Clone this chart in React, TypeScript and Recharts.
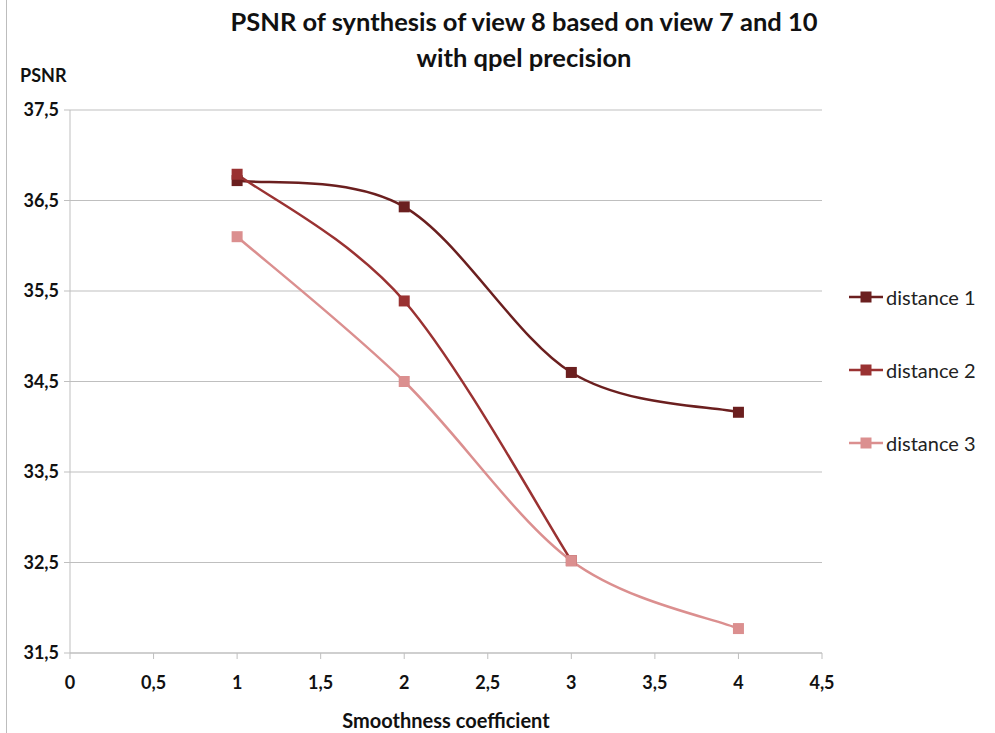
import { LineChart, Line, XAxis, YAxis, CartesianGrid, Legend } from "recharts";

const smoothness = [1, 2, 3, 4];
const distance1 = [36.72, 36.43, 34.6, 34.16];
const distance2: (number | null)[] = [36.79, 35.39, 32.52, null];
const distance3 = [36.1, 34.5, 32.52, 31.77];

const seriesNames = ["distance 1", "distance 2", "distance 3"];
const seriesColors = ["#6B1F1F", "#9A3232", "#DB8F8F"];

const xTicks = [0, 0.5, 1, 1.5, 2, 2.5, 3, 3.5, 4, 4.5];
const yTicks = [31.5, 32.5, 33.5, 34.5, 35.5, 36.5, 37.5];

const data = smoothness.map((x, i) => ({
  x,
  d1: distance1[i],
  d2: distance2[i],
  d3: distance3[i],
}));

const FONT = "Lato, 'Open Sans', sans-serif";
const comma = (v: number) => String(v).replace(".", ",");

// Catmull-Rom style smoothing, close to what spreadsheet "smoothed line" does
function smoothCurve(context: any) {
  let pts: [number, number][] = [];
  return {
    areaStart() {},
    areaEnd() {},
    lineStart() {
      pts = [];
    },
    point(x: number, y: number) {
      pts.push([+x, +y]);
    },
    lineEnd() {
      if (!pts.length) return;
      context.moveTo(pts[0][0], pts[0][1]);
      for (let i = 0; i < pts.length - 1; i++) {
        const p0 = pts[i - 1] || pts[i];
        const p1 = pts[i];
        const p2 = pts[i + 1];
        const p3 = pts[i + 2] || pts[i + 1];
        context.bezierCurveTo(
          p1[0] + (p2[0] - p0[0]) / 6,
          p1[1] + (p2[1] - p0[1]) / 6,
          p2[0] - (p3[0] - p1[0]) / 6,
          p2[1] - (p3[1] - p1[1]) / 6,
          p2[0],
          p2[1]
        );
      }
    },
  };
}

const squareDot = (color: string) => (props: any) => {
  const { cx, cy, index } = props;
  if (cy == null || isNaN(cy)) return <g key={`e-${index}`} />;
  return <rect key={`s-${index}`} x={cx - 5.5} y={cy - 5.5} width={11} height={11} fill={color} />;
};

function LegendBox() {
  return (
    <div style={{ display: "flex", flexDirection: "column", gap: 47, fontFamily: FONT }}>
      {seriesNames.map((name, i) => (
        <div key={name} style={{ display: "flex", alignItems: "center", height: 26, whiteSpace: "nowrap" }}>
          <svg width={36} height={14} style={{ marginLeft: 27, flexShrink: 0 }}>
            <line x1={0} y1={7} x2={34} y2={7} stroke={seriesColors[i]} strokeWidth={2.5} />
            <rect x={11.5} y={1.5} width={11} height={11} fill={seriesColors[i]} />
          </svg>
          <span style={{ fontSize: 20, color: "#222", marginLeft: 1 }}>{name}</span>
        </div>
      ))}
    </div>
  );
}

export default function App() {
  return (
    <div style={{ position: "relative", width: 995, height: 733, background: "#fff", fontFamily: FONT }}>
      <style>{`body{margin:0}`}</style>
      <div style={{ position: "absolute", left: 6, top: 0, width: 1, height: 733, background: "#BDBDBD" }} />
      <div
        style={{
          position: "absolute",
          left: 204,
          width: 640,
          top: 3,
          textAlign: "center",
          fontSize: 25.5,
          fontWeight: 700,
          lineHeight: "36px",
          color: "#111",
        }}
      >
        PSNR of synthesis of view 8 based on view 7 and 10
        <br />
        with qpel precision
      </div>
      <div style={{ position: "absolute", left: 20, top: 64, fontSize: 18, fontWeight: 700, color: "#111" }}>
        PSNR
      </div>
      <LineChart width={995} height={733} data={data} margin={{ top: 110, right: 23, bottom: 0, left: 0 }}>
        <CartesianGrid horizontal vertical={false} stroke="#BFBFBF" />
        <XAxis
          dataKey="x"
          type="number"
          domain={[0, 4.5]}
          ticks={xTicks}
          tickFormatter={comma}
          height={80}
          tickSize={6}
          tickMargin={17}
          stroke="#BFBFBF"
          tick={{ fill: "#111", fontSize: 18, fontWeight: 700, fontFamily: FONT }}
          label={{
            value: "Smoothness coefficient",
            position: "insideBottom",
            offset: 5,
            fill: "#111",
            fontSize: 20,
            fontWeight: 700,
            fontFamily: FONT,
          }}
        />
        <YAxis
          type="number"
          domain={[31.5, 37.5]}
          ticks={yTicks}
          tickFormatter={comma}
          width={70}
          tickSize={6}
          tickMargin={5}
          stroke="#BFBFBF"
          tick={{ fill: "#111", fontSize: 18, fontWeight: 700, fontFamily: FONT }}
        />
        <Legend
          layout="vertical"
          align="right"
          verticalAlign="top"
          width={150}
          wrapperStyle={{ top: 284 }}
          content={() => <LegendBox />}
        />
        {["d1", "d2", "d3"].map((key, i) => (
          <Line
            key={key}
            dataKey={key}
            name={seriesNames[i]}
            type={smoothCurve as any}
            stroke={seriesColors[i]}
            strokeWidth={2.5}
            dot={squareDot(seriesColors[i])}
            activeDot={false}
            isAnimationActive={false}
          />
        ))}
      </LineChart>
    </div>
  );
}
